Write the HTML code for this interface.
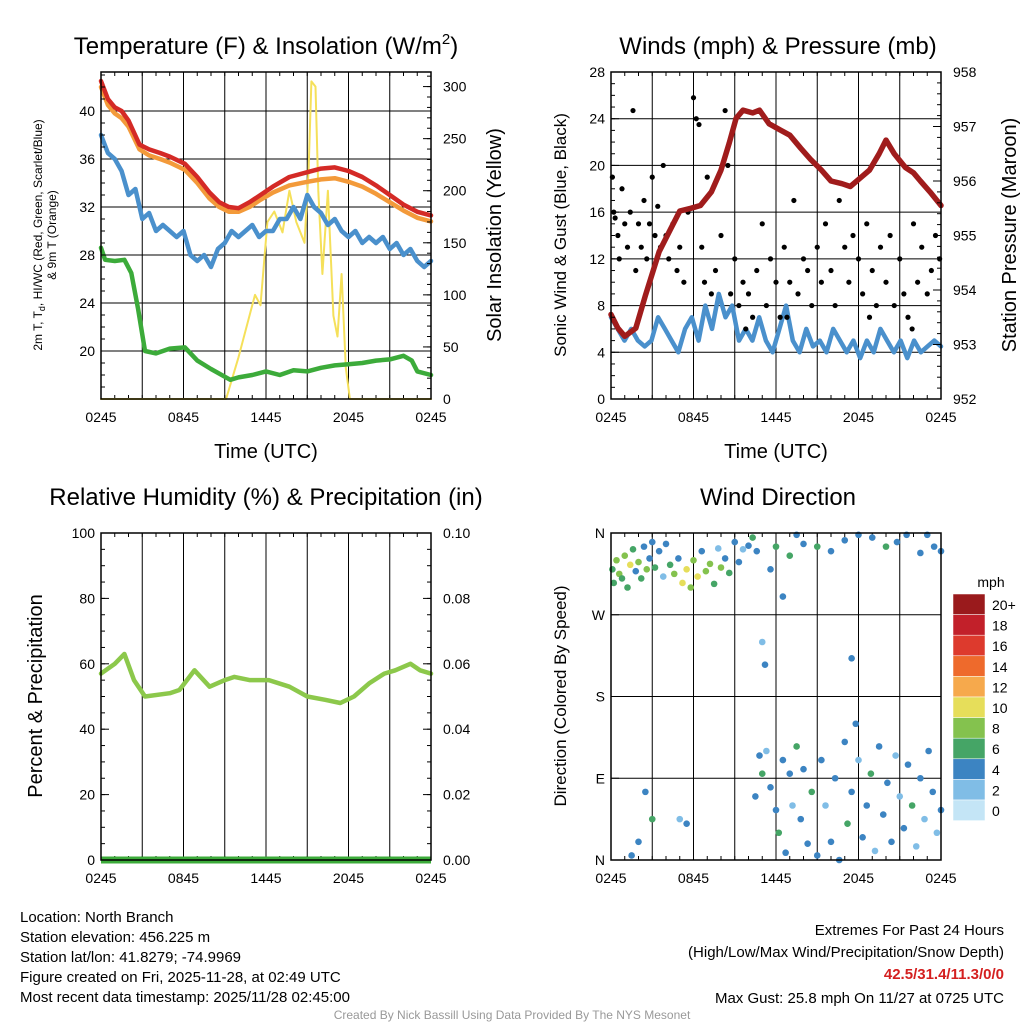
<!DOCTYPE html>
<html><head><meta charset="utf-8"><style>
body{margin:0;background:#fff;font-family:"Liberation Sans",sans-serif}
svg{display:block}
</style></head><body>
<svg id="c" width="1024" height="1024" viewBox="0 0 1024 1024" xmlns="http://www.w3.org/2000/svg" font-family="Liberation Sans, sans-serif">
<rect width="1024" height="1024" fill="#fff"/>
<g id="g"></g>
<text x="266" y="54" font-size="24" text-anchor="middle">Temperature (F) &amp; Insolation (W/m<tspan font-size="15" dy="-10">2</tspan><tspan dy="10">)</tspan></text>
<text x="778" y="54" font-size="24" text-anchor="middle">Winds (mph) &amp; Pressure (mb)</text>
<text x="266" y="505" font-size="24" text-anchor="middle">Relative Humidity (%) &amp; Precipitation (in)</text>
<text x="778" y="505" font-size="24" text-anchor="middle">Wind Direction</text>
<text transform="translate(42,235) rotate(-90)" font-size="12" text-anchor="middle">2m T, T<tspan font-size="9" dy="3">d</tspan><tspan dy="-3">, HI/WC (Red, Green, Scarlet/Blue)</tspan></text>
<text transform="translate(56,235) rotate(-90)" font-size="12" text-anchor="middle">&amp; 9m T (Orange)</text>
<text transform="translate(501,235) rotate(-90)" font-size="20" text-anchor="middle">Solar Insolation (Yellow)</text>
<text transform="translate(566,235) rotate(-90)" font-size="17" text-anchor="middle">Sonic Wind &amp; Gust (Blue, Black)</text>
<text transform="translate(1016,235) rotate(-90)" font-size="20" text-anchor="middle">Station Pressure (Maroon)</text>
<text transform="translate(42,696) rotate(-90)" font-size="20" text-anchor="middle">Percent &amp; Precipitation</text>
<text transform="translate(566,696) rotate(-90)" font-size="17" text-anchor="middle">Direction (Colored By Speed)</text>
<text x="266" y="458" font-size="20" text-anchor="middle">Time (UTC)</text>
<text x="776" y="458" font-size="20" text-anchor="middle">Time (UTC)</text>
<text x="991" y="587" font-size="14" text-anchor="middle">mph</text>
<g font-size="15">
<text x="20" y="922">Location: North Branch</text>
<text x="20" y="942">Station elevation: 456.225 m</text>
<text x="20" y="962">Station lat/lon: 41.8279; -74.9969</text>
<text x="20" y="982">Figure created on Fri, 2025-11-28, at 02:49 UTC</text>
<text x="20" y="1002">Most recent data timestamp: 2025/11/28 02:45:00</text>
</g>
<g font-size="15" text-anchor="end">
<text x="1004" y="935">Extremes For Past 24 Hours</text>
<text x="1004" y="957">(High/Low/Max Wind/Precipitation/Snow Depth)</text>
<text x="1004" y="979" fill="#d42020" font-weight="bold">42.5/31.4/11.3/0/0</text>
<text x="1004" y="1003">Max Gust: 25.8 mph On 11/27 at 0725 UTC</text>
</g>
<text x="512" y="1019" font-size="12" fill="#999" text-anchor="middle">Created By Nick Bassill Using Data Provided By The NYS Mesonet</text>
</svg>
<script>
// ---- data ----
const tempT=[0,0.5,1,1.5,2,2.8,3.5,4.3,5,6.1,7,7.9,8.6,9.3,10,10.8,11.6,12.5,13.7,15,16,17,18,19,20,21,22,23,24];
const red2m=[42.5,41,40.3,40,39.2,37.2,36.8,36.5,36.2,35.6,34.5,33.2,32.4,32.0,31.9,32.4,33.0,33.7,34.5,34.9,35.2,35.3,35.0,34.5,33.8,33.0,32.2,31.6,31.3];
const orange9m=[42.0,40.5,39.8,39.4,38.7,36.8,36.3,36.0,35.7,35.1,34.0,32.7,32.0,31.6,31.6,32.0,32.6,33.2,33.8,34.1,34.3,34.4,34.1,33.7,33.1,32.4,31.7,31.1,30.8];
const blueWC=[38,36.5,36,35,33,33.5,31,31.5,30,30.5,30,29.5,30,28,27.5,28,27,28.5,29,30,29.5,30,30.5,29.5,30,30,31,31,32,31,33,32,31.5,30.5,31,30,29.5,30,29,29.5,29,29.5,28.5,29,28,28.5,27.5,27,27.5];
const greenT=[0,0.3,1,1.7,2.2,2.7,3.2,4,5,6.1,7,8,9.4,10,11,12,13,14,15,16,17,18,19,20,21,22,22.6,23,24];
const greenTd=[28.6,27.6,27.5,27.6,26.5,23.5,20.0,19.8,20.2,20.3,19.2,18.5,17.6,17.8,18.0,18.3,18.0,18.4,18.3,18.6,18.8,18.9,19.0,19.2,19.3,19.6,19.2,18.3,18.0];
const solarT=[0,9.1,10,11.2,11.6,12.1,12.6,13.2,13.7,14.2,14.8,15.1,15.3,15.6,15.8,16.1,16.5,16.9,17.2,17.5,17.8,18.1,24];
const solarV=[0,0,40,100,90,170,180,160,200,170,150,220,305,300,200,120,200,80,60,120,30,0,0];
const presT=[0,0.5,1,1.8,2.5,3.5,4.3,5,5.8,6.5,7.3,8,8.6,9.1,9.6,10.3,10.8,11.5,12.2,13,13.8,14.5,15.3,16,16.8,17.4,18.1,18.8,19.5,20,20.6,21.4,22,22.5,23.2,24];
const pressure=[953.55,953.3,953.15,953.3,953.9,954.7,955.1,955.45,955.5,955.55,955.8,956.2,956.7,957.15,957.3,957.25,957.3,957.05,956.95,956.84,956.6,956.4,956.2,956.0,955.95,955.9,956.05,956.2,956.5,956.75,956.5,956.25,956.15,956.0,955.8,955.55];
const windSpd=[7,6,5,6,5,4.5,5,7,6,5,4,6,7,5,8,6,9,7,8,5,6,5,7,5,4,6,8,5,4,6,4.5,5,4,6,5,4,5,3.5,5,4,6,5,4,5,3.5,5,4,4.5,5,4.5];
const gustT=[0.1,0.2,0.3,0.5,0.6,0.8,1,1.2,1.4,1.6,1.8,2,2.2,2.4,2.6,2.8,3,3.2,3.4,3.6,3.8,4,4.2,4.5,4.8,5,5.3,5.6,6,6.2,6.4,6.6,6.8,7,7.3,7.6,8,8.3,8.5,8.7,9,9.3,9.6,9.8,10,10.3,10.6,11,11.3,11.6,12,12.3,12.6,12.8,13,13.3,13.6,14,14.3,14.6,15,15.3,15.6,16,16.3,16.6,17,17.3,17.6,18,18.3,18.6,18.8,19,19.3,19.6,20,20.3,20.6,21,21.3,21.6,21.9,22,22.3,22.6,23,23.3,23.6,23.9];
const gustV=[19,16,15.5,14,12,18,15,13,16,24.7,11,15,13,17,12,15,19,14,16.5,13,20,14,12,15,11,13,10,16,25.8,24,23.5,13,10,19,9,11,14,24.7,20,9,12,8,10,6,9,7,11,15,8,12,10,7,13,7,10,17,9,12,11,8,13,10,15,11,8,17,13,10,14,12,9,15,7,11,8,13,10,14,8,12,9,7,6,15,10,13,9,11,14,12];
const rhT=[0,1,1.7,2.4,3.2,5,5.7,6.8,7.9,9,9.7,10.8,12.2,13.7,15,16.3,17.4,18.4,19.5,20.6,21.4,22.5,23.2,24];
const rh=[57,60,63,55,50,51,52,58,53,55,56,55,55,53,50,49,48,50,54,57,58,60,58,57];
const dirT=[0.1,0.2,0.4,0.6,0.8,1,1.2,1.4,1.6,1.8,2,2.2,2.4,2.6,2.8,3,3.2,3.5,3.8,4,4.3,4.6,4.9,5.2,5.5,5.8,6,6.3,6.6,6.9,7.2,7.5,7.8,8,8.3,8.6,9,9.3,9.6,10,10.3,10.6,11,11.2,11.6,12,12.5,13,13.5,14,15,16,17,17.5,18,19,20,20.8,21.5,22.5,23,23.5,24,2,2.5,3,1.5,5,5.5,10.5,10.8,11,11.3,11.6,12,12.2,12.5,12.7,13,13.2,13.5,13.8,14,14.3,14.6,15,15.3,15.6,16,16.3,16.6,17,17.2,17.5,17.8,18,18.3,18.6,18.9,19.2,19.5,19.8,20.1,20.4,20.7,21,21.3,21.6,21.9,22.2,22.5,22.8,23.1,23.4,23.7,24];
const dirV=[320,305,330,315,310,335,300,325,342,318,328,310,345,320,332,350,322,340,312,348,325,315,332,305,320,300,330,312,340,318,326,304,343,322,332,316,350,328,342,346,355,340,240,215,320,345,290,335,358,348,345,340,352,222,358,355,345,350,358,338,358,345,340,20,75,45,5,45,40,70,115,95,120,80,55,30,110,8,95,60,125,45,100,18,75,5,110,60,20,90,0,130,40,75,150,110,25,60,95,10,125,50,85,20,115,70,35,105,60,15,90,45,120,75,30,55];
const dirS=[6,7,8,9,6,8,7,10,6,4,8,7,5,9,4,4,6,4,2,4,7,8,5,10,11,9,8,10,4,8,9,7,2,8,4,6,4,4,2,4,6,4,2,4,4,6,4,6,4,4,6,4,4,4,4,4,6,4,4,4,4,4,4,4,4,6,4,2,4,4,4,6,2,4,4,6,4,4,4,2,6,4,4,4,6,4,4,2,4,4,4,4,6,4,4,2,4,4,6,2,4,4,4,4,2,2,4,4,6,2,4,2,4,4,2,4];
const cbLabels=["20+","18","16","14","12","10","8","6","4","2","0"];
const cbColors=["#9a1a1c","#c2202a","#dd3a2d","#ee6a2c","#f6a94c","#e6de5a","#84c24e","#45a566","#3c84c2","#80bde6","#c4e5f6"];
// ---- helpers ----
const NS="http://www.w3.org/2000/svg", G=document.getElementById('g');
function mk(tag,at,parent){const e=document.createElementNS(NS,tag);for(const k in at)e.setAttribute(k,at[k]);(parent||G).appendChild(e);return e;}
function spdColor(s){const i=Math.min(10,Math.max(0,Math.floor(s/2)));return cbColors[10-i];}
function panel(x0,y0,w,h){return {x0,y0,w,h,X:t=>x0+t/24*w};}
const P1=panel(101,72,330,327),P2=panel(611,72,330,327),P3=panel(101,533,330,327),P4=panel(611,533,330,327);
function lin(d0,d1,p){return v=>p.y0+p.h-(v-d0)/(d1-d0)*p.h;}
const yT=lin(16,43.25,P1), yS=lin(0,314,P1), yW=lin(0,28,P2), yP=lin(952,958,P2), yRH=lin(0,100,P3), yD=lin(0,360,P4);
function frame(p,name,hgrid){
  for(let t=3;t<24;t+=3){const l=mk('line',{x1:p.X(t),x2:p.X(t),y1:p.y0,y2:p.y0+p.h,stroke:'#000','stroke-width':1});
    
    }
  hgrid.forEach(y=>{const l=mk('line',{x1:p.x0,x2:p.x0+p.w,y1:y,y2:y,stroke:'#000','stroke-width':1});
    
    });
  for(let t=0;t<=24;t++){const len=t%6==0?8:4;
    mk('line',{x1:p.X(t),x2:p.X(t),y1:p.y0+p.h,y2:p.y0+p.h-len,stroke:'#000'});
    mk('line',{x1:p.X(t),x2:p.X(t),y1:p.y0,y2:p.y0+len,stroke:'#000'});}
  ['0245','0845','1445','2045','0245'].forEach((s,i)=>{const tx=mk('text',{x:p.X(i*6),y:p.y0+p.h+23,'font-size':14,'text-anchor':'middle'});tx.textContent=s;
    
    });
}
function yticks(p,side,vals,f,labels,minor){
  const x=side=='l'?p.x0:p.x0+p.w, dir=side=='l'?1:-1;
  minor.forEach(v=>mk('line',{x1:x,x2:x+dir*4,y1:f(v),y2:f(v),stroke:'#000'}));
  vals.forEach((v,i)=>{mk('line',{x1:x,x2:x+dir*8,y1:f(v),y2:f(v),stroke:'#000'});
    const tx=mk('text',{x:side=='l'?x-6:x+12,y:f(v)+5,'font-size':14,'text-anchor':side=='l'?'end':'start'});tx.textContent=labels[i];
    
    });
}
function series(p,vals,f,color,width,name,times){
  const n=vals.length;const pts=vals.map((v,i)=>(p.X(times?times[i]:i*24/(n-1))).toFixed(1)+','+f(v).toFixed(1)).join(' ');
  const e=mk('polyline',{points:pts,fill:'none',stroke:color,'stroke-width':width,'stroke-linejoin':'round','stroke-linecap':'round'});
  
  
}
function border(p,name){const r=mk('rect',{x:p.x0,y:p.y0,width:p.w,height:p.h,fill:'none',stroke:'#000','stroke-width':1.5});
  
  }
const rng=(a,b,s)=>{const r=[];for(let v=a;v<=b+1e-9;v+=s)r.push(+v.toFixed(3));return r;};
// ---- panel 1 ----
frame(P1,'temp',[20,24,28,32,36,40].map(yT));
series(P1,solarV,yS,'#f5e05a',2,'solar-line',solarT);
series(P1,greenTd,yT,'#3cab3a',4.5,'dewpoint-line',greenT);
series(P1,blueWC,yT,'#4a90cc',4.5,'windchill-line');
series(P1,orange9m,yT,'#f39a3a',4.5,'temp-9m-line',tempT);
series(P1,red2m,yT,'#d42a26',4.5,'temp-2m-line',tempT);
border(P1,'temp-plot-area');
yticks(P1,'l',[20,24,28,32,36,40],yT,['20','24','28','32','36','40'],rng(17,43,1));
yticks(P1,'r',[0,50,100,150,200,250,300],yS,['0','50','100','150','200','250','300'],rng(10,310,10));
// ---- panel 2 ----
frame(P2,'wind',[4,8,12,16,20,24].map(yW));
series(P2,windSpd,yW,'#4a90cc',4.5,'wind-speed-line');
gustT.forEach((t,i)=>{const c=mk('circle',{cx:P2.X(t),cy:yW(gustV[i]),r:2.6,fill:'#000'});
  
  });
series(P2,pressure,yP,'#a01c1c',5.5,'pressure-line',presT);
border(P2,'wind-plot-area');
yticks(P2,'l',[0,4,8,12,16,20,24,28],yW,['0','4','8','12','16','20','24','28'],rng(1,27,1));
yticks(P2,'r',[952,953,954,955,956,957,958],yP,['952','953','954','955','956','957','958'],rng(952.2,957.8,0.2));
// ---- panel 3 ----
frame(P3,'rh',[]);
mk('line',{x1:P3.x0,x2:P3.x0+P3.w,y1:yRH(0),y2:yRH(0),stroke:'#3cab3a','stroke-width':7});
series(P3,rh,yRH,'#8cc84b',4.5,'rh-line',rhT);
border(P3,'rh-plot-area');
yticks(P3,'l',[0,20,40,60,80,100],yRH,['0','20','40','60','80','100'],rng(5,95,5));
yticks(P3,'r',[0,20,40,60,80,100],yRH,['0.00','0.02','0.04','0.06','0.08','0.10'],rng(5,95,5));
// ---- panel 4 ----
frame(P4,'dir',[90,180,270].map(yD));
dirT.forEach((t,i)=>{const c=mk('circle',{cx:P4.X(t),cy:yD(dirV[i]),r:3.3,fill:spdColor(dirS[i])});
  
  });
border(P4,'dir-plot-area');
yticks(P4,'l',[0,90,180,270,360],yD,['N','E','S','W','N'],[]);
// colorbar
cbLabels.forEach((l,i)=>{const y=594+i*20.6;
  const r=mk('rect',{x:953,y:y,width:32,height:20.6,fill:cbColors[i],stroke:'#fff','stroke-width':0.5});
  
  
  const t=mk('text',{x:992,y:y+16,'font-size':14});t.textContent=l;
  
  });
</script>
</body></html>
